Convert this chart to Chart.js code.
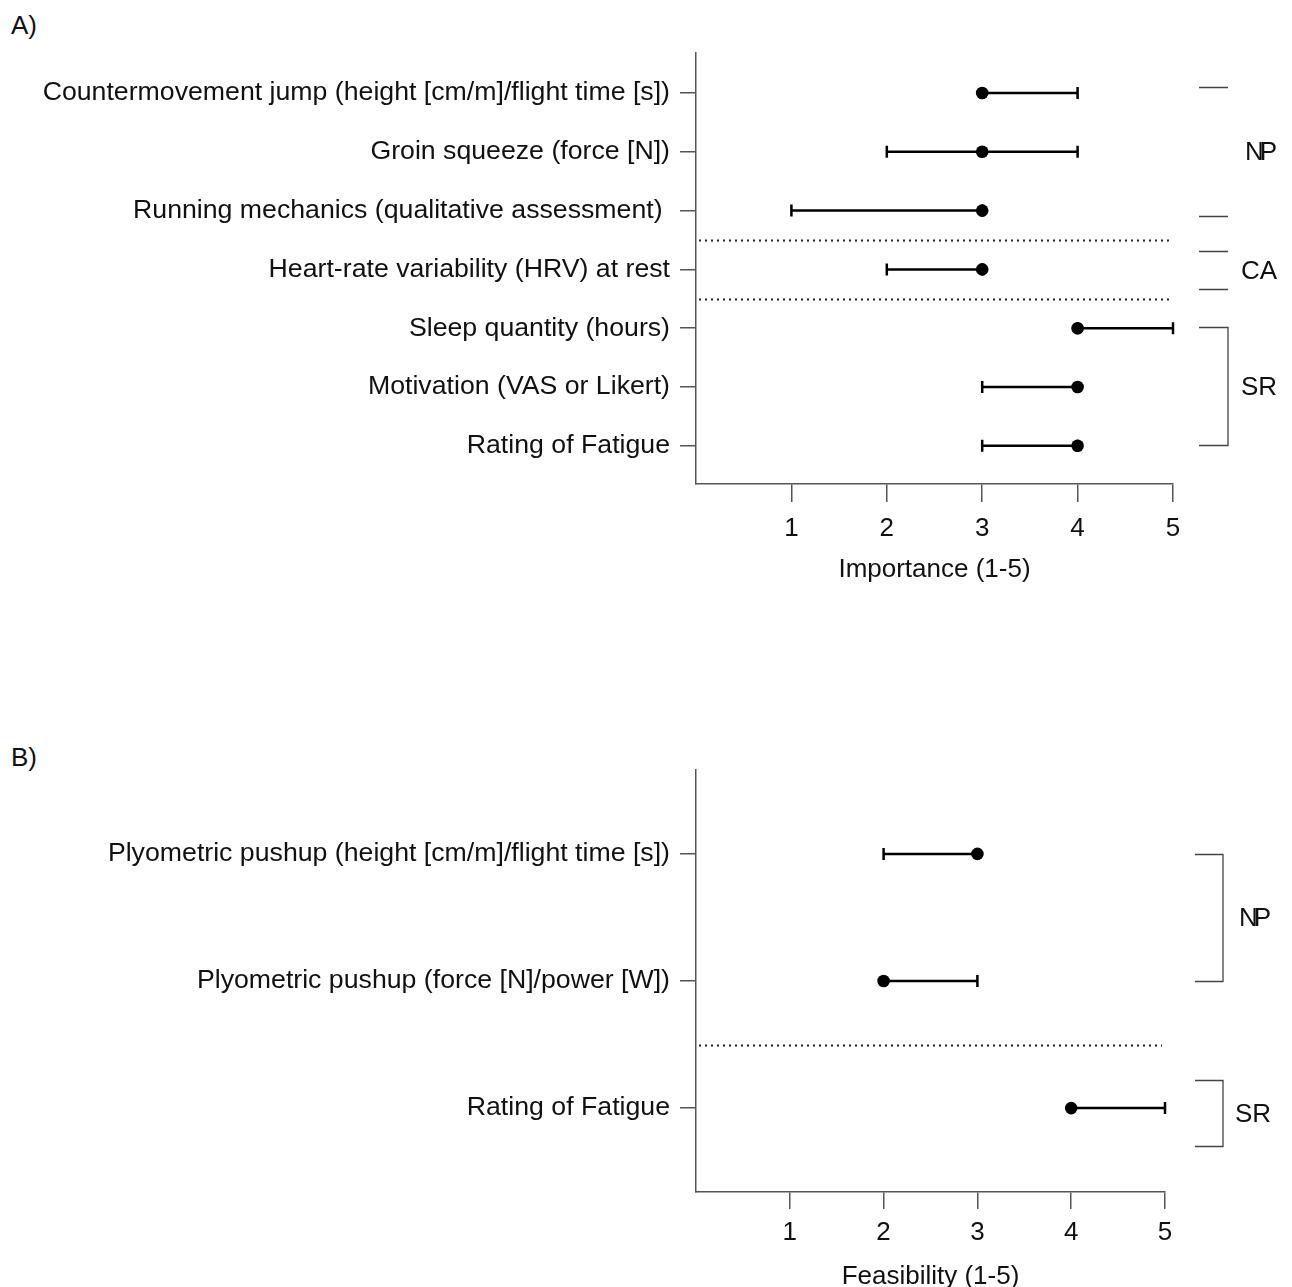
<!DOCTYPE html>
<html>
<head>
<meta charset="utf-8">
<script src="https://cdn.jsdelivr.net/npm/chart.js@4.4.1/dist/chart.umd.min.js"></script>
<style>
  html, body { margin: 0; padding: 0; background: #fff; }
  #wrap { position: relative; width: 1292px; height: 1287px; overflow: hidden; }
  canvas { position: absolute; left: 0; }
  .panel { position: absolute; left: 11px; font: 26px "Liberation Sans", Arial, sans-serif; color: #111; line-height: 30px; }
</style>
</head>
<body>
<div id="wrap">
  <div class="panel" style="top:10px">A)</div>
  <canvas id="cA" width="1292" height="640" style="top:0"></canvas>
  <div class="panel" style="top:742px">B)</div>
  <canvas id="cB" width="1292" height="647" style="top:640px"></canvas>
</div>
<script>
// ---------- Data ----------
const importanceLabels = [
  'Countermovement jump (height [cm/m]/flight time [s])',
  'Groin squeeze (force [N])',
  'Running mechanics (qualitative assessment) ',
  'Heart-rate variability (HRV) at rest',
  'Sleep quantity (hours)',
  'Motivation (VAS or Likert)',
  'Rating of Fatigue'
];
const importanceMedian = [3, 3, 3, 3, 4, 4, 4];
const importanceLow    = [3, 2, 1, 2, 4, 3, 3];
const importanceHigh   = [4, 4, 3, 3, 5, 4, 4];
const importanceSeparators = [2.5, 3.5];
const importanceGroupNames = ['NP', 'CA', 'SR'];
const importanceGroupFrom  = [-0.1, 2.69, 3.98];
const importanceGroupTo    = [2.09, 3.33, 5.98];
const importanceGroupKind  = ['lines', 'lines', 'bracket'];

const feasibilityLabels = [
  'Plyometric pushup (height [cm/m]/flight time [s])',
  'Plyometric pushup (force [N]/power [W])',
  'Rating of Fatigue'
];
const feasibilityMedian = [3, 2, 4];
const feasibilityLow    = [2, 2, 4];
const feasibilityHigh   = [3, 3, 5];
const feasibilitySeparators = [1.5];
const feasibilityGroupNames = ['NP', 'SR'];
const feasibilityGroupFrom  = [0, 1.78];
const feasibilityGroupTo    = [1, 2.3];
const feasibilityGroupKind  = ['bracket', 'bracket'];

const xTickValues = [1, 2, 3, 4, 5];

// ---------- Plugins ----------
const FONT = '"Liberation Sans", Arial, sans-serif';
const AXIS_COLOR = '#555';

const errorBarPlugin = {
  id: 'errorBars',
  beforeDatasetsDraw(chart, args, opts) {
    const { ctx, scales: { x, y } } = chart;
    ctx.save();
    ctx.strokeStyle = '#000';
    ctx.lineWidth = 2.5;
    opts.low.forEach((lo, i) => {
      const yp = y.getPixelForValue(i);
      const x1 = x.getPixelForValue(lo);
      const x2 = x.getPixelForValue(opts.high[i]);
      ctx.beginPath();
      ctx.moveTo(x1, yp); ctx.lineTo(x2, yp);
      ctx.moveTo(x1, yp - 6); ctx.lineTo(x1, yp + 6);
      ctx.moveTo(x2, yp - 6); ctx.lineTo(x2, yp + 6);
      ctx.stroke();
    });
    ctx.restore();
  }
};

const annotatePlugin = {
  id: 'annotate',
  afterDraw(chart, args, opts) {
    const { ctx, chartArea, scales: { x, y } } = chart;
    ctx.save();
    // dotted separators
    ctx.strokeStyle = '#222';
    ctx.lineWidth = 2;
    ctx.setLineDash([2, 4]);
    opts.separators.forEach(v => {
      const yp = Math.round(y.getPixelForValue(v)) + 0.5;
      ctx.beginPath();
      ctx.moveTo(chartArea.left + 3, yp);
      ctx.lineTo(x.getPixelForValue(5) - 3, yp);
      ctx.stroke();
    });
    ctx.setLineDash([]);
    // group brackets
    ctx.strokeStyle = '#444';
    ctx.lineWidth = 1.3;
    ctx.fillStyle = '#111';
    ctx.font = '26px ' + FONT;
    ctx.textAlign = 'center';
    ctx.textBaseline = 'middle';
    opts.names.forEach((name, i) => {
      const y1 = Math.round(y.getPixelForValue(opts.from[i])) + 0.5;
      const y2 = Math.round(y.getPixelForValue(opts.to[i])) + 0.5;
      const xa = chartArea.right + opts.dx[0];
      const xb = chartArea.right + opts.dx[1];
      ctx.beginPath();
      ctx.moveTo(xa, y1); ctx.lineTo(xb, y1);
      if (opts.kind[i] === 'bracket') {
        ctx.lineTo(xb, y2);
      } else {
        ctx.moveTo(xb, y2);
      }
      ctx.lineTo(xa, y2);
      ctx.stroke();
      ctx.letterSpacing = name === 'NP' ? '-4px' : '0px';
      ctx.fillText(name, chartArea.right + opts.dx[2], (y1 + y2) / 2 + 1);
      ctx.letterSpacing = '0px';
    });
    ctx.restore();
  }
};

function makeChart(canvasId, cfg) {
  const points = cfg.median.map((m, i) => ({ x: m, y: i }));
  return new Chart(document.getElementById(canvasId), {
    type: 'scatter',
    data: {
      datasets: [{
        data: points,
        backgroundColor: '#000',
        borderColor: '#000',
        pointRadius: 6.3,
        pointHoverRadius: 6.3,
        borderWidth: 0,
        clip: false
      }]
    },
    options: {
      responsive: false,
      animation: false,
      events: [],
      layout: { padding: cfg.padding },
      plugins: {
        legend: { display: false },
        tooltip: { enabled: false },
        errorBars: { low: cfg.low, high: cfg.high },
        annotate: {
          separators: cfg.separators,
          names: cfg.groupNames, from: cfg.groupFrom, to: cfg.groupTo,
          kind: cfg.groupKind, dx: cfg.groupDx
        }
      },
      scales: {
        x: {
          type: 'linear', min: 0, max: 5,
          afterBuildTicks: s => { s.ticks = xTickValues.map(v => ({ value: v })); },
          afterFit: s => { s.height = cfg.xHeight; },
          border: { display: true, color: AXIS_COLOR, width: 1.5 },
          grid: { drawOnChartArea: false, drawTicks: true, tickLength: cfg.xTickLen, color: AXIS_COLOR, lineWidth: 1.5 },
          ticks: { color: '#111', font: { family: FONT, size: 26 }, padding: cfg.xTickPad, maxRotation: 0,
                   callback: v => String(v) },
          title: { display: true, text: cfg.xTitle, color: '#111',
                   font: { family: FONT, size: 26, lineHeight: 1.1 }, padding: cfg.titlePad }
        },
        y: {
          type: 'linear', reverse: true, min: cfg.yMin, max: cfg.yMax,
          afterBuildTicks: s => { s.ticks = cfg.labels.map((l, i) => ({ value: i })); },
          afterFit: s => { s.width = 696; },
          border: { display: true, color: AXIS_COLOR, width: 1.5 },
          grid: { drawOnChartArea: false, drawTicks: true, tickLength: 16, color: AXIS_COLOR, lineWidth: 1.5 },
          ticks: { color: '#111', font: { family: FONT, size: 26.7 }, padding: 10,
                   callback: v => cfg.labels[v] }
        }
      }
    },
    plugins: [errorBarPlugin, annotatePlugin]
  });
}

makeChart('cA', {
  labels: importanceLabels, median: importanceMedian, low: importanceLow, high: importanceHigh,
  separators: importanceSeparators,
  groupNames: importanceGroupNames, groupFrom: importanceGroupFrom, groupTo: importanceGroupTo,
  groupKind: importanceGroupKind, groupDx: [26, 55, 86],
  yMin: -0.68, yMax: 6.65,
  padding: { top: 53, right: 119, bottom: 0, left: 0 },
  xHeight: 156, xTickLen: 18, xTickPad: 11,
  xTitle: 'Importance (1-5)', titlePad: { top: 0, bottom: 56 }
});

makeChart('cB', {
  labels: feasibilityLabels, median: feasibilityMedian, low: feasibilityLow, high: feasibilityHigh,
  separators: feasibilitySeparators,
  groupNames: feasibilityGroupNames, groupFrom: feasibilityGroupFrom, groupTo: feasibilityGroupTo,
  groupKind: feasibilityGroupKind, groupDx: [30, 58, 88],
  yMin: -0.66, yMax: 2.66,
  padding: { top: 130, right: 127, bottom: 0, left: 0 },
  xHeight: 95, xTickLen: 17, xTickPad: 8,
  xTitle: 'Feasibility (1-5)', titlePad: { top: 0, bottom: -4 }
});
</script>
</body>
</html>
